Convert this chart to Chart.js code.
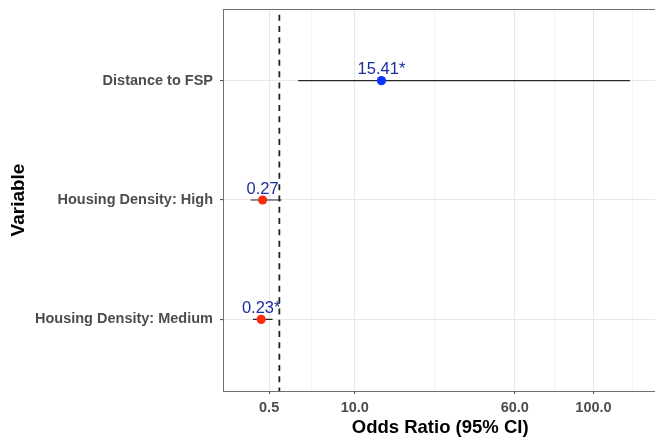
<!DOCTYPE html>
<html>
<head>
<meta charset="utf-8">
<script src="https://cdn.jsdelivr.net/npm/chart.js@4.4.1/dist/chart.umd.min.js"></script>
<style>
  html, body { margin: 0; padding: 0; background: #fff; overflow: hidden; }
  #wrap { width: 662px; height: 439px; }
</style>
</head>
<body>
<div id="wrap"><canvas id="forest" width="662" height="439"></canvas></div>
<script>
// Odds ratios with 95% CI
const variables = ['Distance to FSP', 'Housing Density: High', 'Housing Density: Medium'];
const oddsRatios = [15.41, 0.27, 0.23];
const ciLower = [2.37, 0.03, 0.06];
const ciUpper = [122, 1.13, 0.65];
const significant = [true, false, true];
const xTickValues = [0.5, 10, 60, 100];
const refLine = 1;

// signed square root, the x axis is sqrt-transformed
const sq = v => (v < 0 ? -Math.sqrt(-v) : Math.sqrt(v));
const unsq = t => (t < 0 ? -t * t : t * t);

class SqrtScale extends Chart.LinearScale {
  configure() {
    super.configure();
    this._tLo = sq(this.min);
    this._tHi = sq(this.max);
  }
  getPixelForValue(value) {
    return this.getPixelForDecimal((sq(value) - this._tLo) / (this._tHi - this._tLo));
  }
  getValueForPixel(pixel) {
    return unsq(this._tLo + this.getDecimalForPixel(pixel) * (this._tHi - this._tLo));
  }
}
SqrtScale.id = 'sqrt';
SqrtScale.defaults = Chart.LinearScale.defaults;
Chart.register(SqrtScale);

// minor breaks sit halfway between majors in sqrt space (ggplot style)
const xMinorValues = xTickValues.slice(1).map((v, i) => unsq((sq(v) + sq(xTickValues[i])) / 2));
const lastGap = sq(xTickValues[xTickValues.length - 1]) - sq(xTickValues[xTickValues.length - 2]);
xMinorValues.push(unsq(sq(xTickValues[xTickValues.length - 1]) + lastGap / 2));

const rowY = i => variables.length - i;

Chart.defaults.font.family = "'Liberation Sans', Arial, Helvetica, sans-serif";

const ciSets = variables.map((v, i) => ({
  label: 'ci',
  data: [{ x: ciLower[i], y: rowY(i) }, { x: ciUpper[i], y: rowY(i) }],
  showLine: true,
  borderColor: '#262626',
  borderWidth: 1.1,
  pointRadius: 0,
  order: 2
}));

const pointSet = {
  label: 'points',
  data: oddsRatios.map((or, i) => ({ x: or, y: rowY(i) })),
  pointRadius: 4.6,
  pointBorderWidth: 0,
  pointBackgroundColor: oddsRatios.map(or => (or > 1 ? '#0a35ff' : '#ff2a0a')),
  order: 1
};

const refSet = {
  label: 'ref',
  data: [{ x: refLine, y: 0 }, { x: refLine, y: 4 }],
  showLine: true,
  borderColor: '#222',
  borderWidth: 1.8,
  borderDash: [6, 5.3],
  pointRadius: 0,
  order: 0
};

// value labels above the points, drawn before the dashed line
const labelPlugin = {
  id: 'orLabels',
  afterDatasetDraw(chart, args) {
    if (chart.data.datasets[args.index].label !== 'points') return;
    const ctx = chart.ctx;
    ctx.save();
    ctx.font = "16.5px 'Liberation Sans', Arial, sans-serif";
    ctx.fillStyle = '#1c2d9e';
    ctx.textAlign = 'center';
    ctx.textBaseline = 'alphabetic';
    args.meta.data.forEach((pt, i) => {
      const txt = oddsRatios[i].toFixed(2) + (significant[i] ? '*' : '');
      ctx.fillText(txt, pt.x, pt.y - 6.5);
    });
    ctx.restore();
  }
};

const topBorder = {
  id: 'topBorder',
  afterDatasetsDraw(chart) {
    const { ctx, chartArea } = chart;
    ctx.save();
    ctx.strokeStyle = '#707070';
    ctx.lineWidth = 1;
    ctx.beginPath();
    ctx.moveTo(chartArea.left, chartArea.top + 0.5);
    ctx.lineTo(chartArea.right, chartArea.top + 0.5);
    ctx.stroke();
    ctx.restore();
  }
};

new Chart(document.getElementById('forest'), {
  type: 'scatter',
  data: { datasets: [refSet, pointSet, ...ciSets] },
  plugins: [labelPlugin, topBorder],
  options: {
    responsive: false,
    animation: false,
    layout: { padding: { top: 9, right: 0, bottom: 0, left: 0 } },
    plugins: { legend: { display: false }, tooltip: { enabled: false } },
    scales: {
      x: {
        type: 'sqrt',
        min: -0.378,
        max: 140,
        bounds: 'data',
        afterBuildTicks: s => {
          s.ticks = xTickValues.map(v => ({ value: v, major: true }))
            .concat(xMinorValues.map(v => ({ value: v, major: false })))
            .sort((a, b) => a.value - b.value);
        },
        afterFit: s => { s.height = 48; s.paddingLeft = 0; s.paddingRight = 0; },
        grid: {
          color: c => (c.tick && c.tick.major ? '#e8e8e8' : '#efefef'),
          lineWidth: c => (c.tick && c.tick.major ? 1.1 : 0.7),
          tickColor: c => (c.tick && c.tick.major ? '#555' : 'rgba(0,0,0,0)'),
          tickLength: 3
        },
        border: { color: '#707070', width: 1 },
        ticks: {
          autoSkip: false,
          maxRotation: 0,
          padding: 5,
          color: '#4d4d4d',
          font: { size: 14.5, weight: 'bold' },
          callback: (v, i, ticks) => (ticks[i].major ? Number(v).toFixed(1) : '')
        },
        title: {
          display: true,
          text: 'Odds Ratio (95% CI)',
          color: '#000',
          font: { size: 18.5, weight: 'bold' },
          padding: { top: 0, bottom: 0 }
        }
      },
      y: {
        type: 'linear',
        min: 0.4,
        max: 3.6,
        afterBuildTicks: s => {
          s.ticks = variables.map((v, i) => ({ value: rowY(i) }));
        },
        afterFit: s => { s.width = 223; s.paddingTop = 0; s.paddingBottom = 0; },
        grid: { color: '#e8e8e8', lineWidth: 1.1, tickColor: '#555', tickLength: 3 },
        border: { color: '#707070', width: 1 },
        ticks: {
          padding: 7,
          color: '#4d4d4d',
          font: { size: 14.5, weight: 'bold' },
          callback: v => variables[variables.length - v]
        },
        title: {
          display: true,
          text: 'Variable',
          color: '#000',
          font: { size: 19, weight: 'bold' },
          padding: { top: 7, bottom: 0 }
        }
      }
    }
  }
});
</script>
</body>
</html>
